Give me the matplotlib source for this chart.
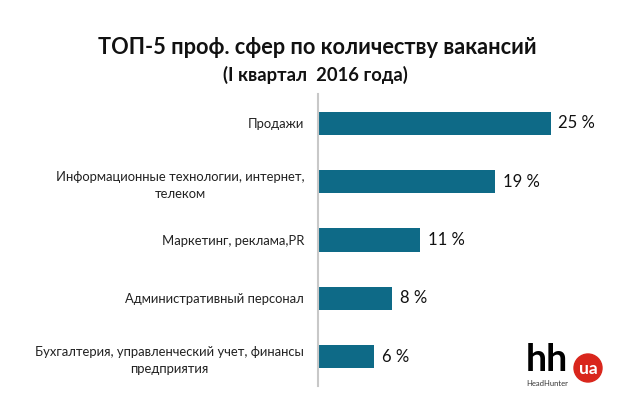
import matplotlib.pyplot as plt
from matplotlib.patches import Ellipse

plt.rcParams['font.family'] = ['Lato', 'DejaVu Sans']

spheres = ["Продажи",
           "Информационные технологии, интернет,\nтелеком",
           "Маркетинг, реклама,PR",
           "Административный персонал",
           "Бухгалтерия, управленческий учет, финансы\nпредприятия"]
shares = [25, 19, 11, 8, 6]
share_labels = ["25 %", "19 %", "11 %", "8 %", "6 %"]

fig = plt.figure(figsize=(6.2, 3.93), dpi=100)
ax = fig.add_axes([318/620, 7/393, 302/620, 292/393])

pos = list(range(len(spheres)))
ax.barh(pos, shares, height=0.4, color="#0E6A87")
ax.set_ylim(len(spheres) - 0.5, -0.5)
ax.set_xlim(0, 302/9.3)

for p, v, t in zip(pos, shares, share_labels):
    ax.text(v + 0.85, p, t, va="center", ha="left", fontsize=12, color="#111111")

ax.set_yticks(pos)
ax.set_yticklabels(spheres, fontsize=9.4, color="#222222", linespacing=1.5)
for lab in ax.get_yticklabels():
    lab.set_multialignment("center")
ax.tick_params(axis="y", length=0, pad=10)
ax.set_xticks([])
for s in ["top", "right", "bottom"]:
    ax.spines[s].set_visible(False)
ax.spines["left"].set_color("#C8C8C8")
ax.spines["left"].set_linewidth(1.5)

# заголовок
fig.text(0.512, 1 - 47/393, "ТОП-5 проф. сфер по количеству вакансий",
         ha="center", va="center", fontsize=15.7, fontweight="bold", color="#111111")
fig.text(0.508, 1 - 75/393, "(I квартал  2016 года)",
         ha="center", va="center", fontsize=13.2, fontweight="bold", color="#111111")

# логотип hh.ua
fig.text(547/620, 1 - 360/393, "hh", ha="center", va="center", fontsize=27,
         fontweight="bold", color="black")
fig.text(547/620, 1 - 383/393, "HeadHunter", ha="center", va="center", fontsize=5.5,
         color="#333333")
circ = Ellipse((588/620, 1 - 368/393), 28/620, 28/393, transform=fig.transFigure,
               color="#D9261C")
fig.patches.append(circ)
fig.text(588/620, 1 - 369/393, "ua", ha="center", va="center", fontsize=12.5,
         fontweight="bold", color="white")

fig.savefig("out.png", dpi=100)
